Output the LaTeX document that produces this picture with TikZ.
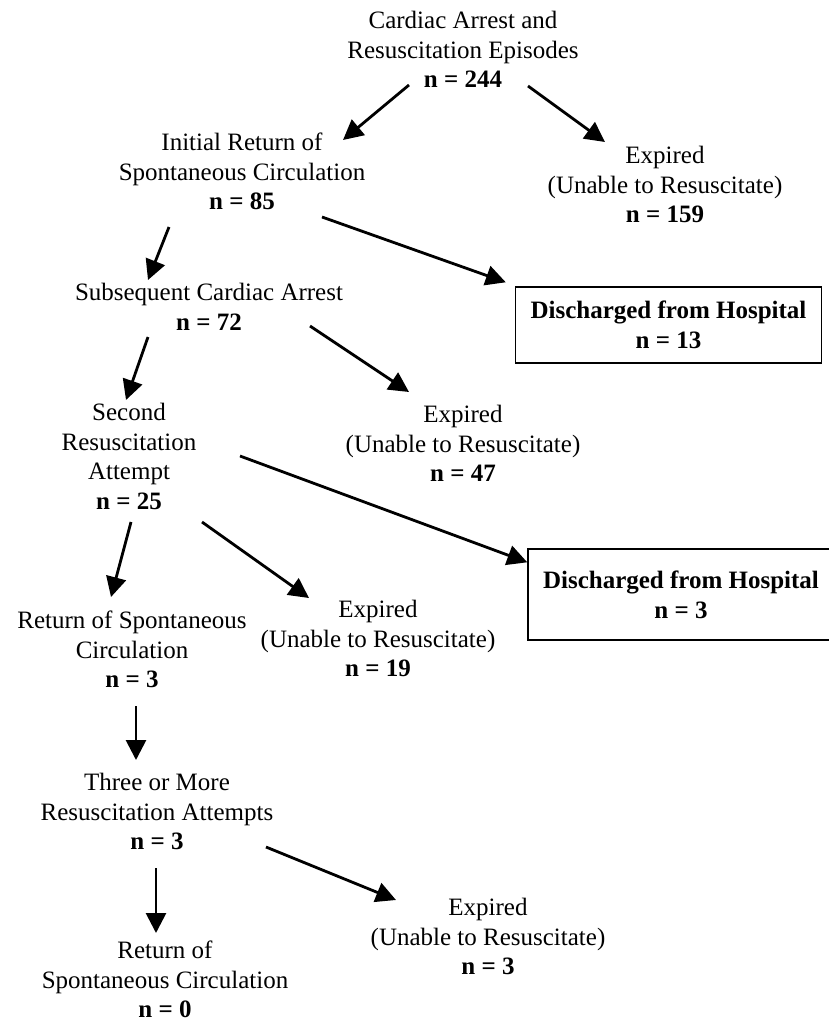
\documentclass[tikz,border=0pt]{standalone}
\usepackage{fontspec}
\setmainfont{Liberation Serif}
\usetikzlibrary{arrows.meta}
\begin{document}
\begin{tikzpicture}[x=1pt,y=-1pt,
  lbl/.style={align=center,anchor=north,inner sep=0pt,font=\fontsize{25}{29.5}\selectfont},
  arr/.style={line width=2.8pt,-{Triangle[length=20pt,width=20pt]}},
  dbox/.style={draw,line width=1.4pt,align=center,inner sep=0pt,minimum width=306pt,font=\fontsize{25}{30}\selectfont\bfseries}]
\useasboundingbox (0,0) rectangle (828,1025);
% nodes
\node[lbl] (top) at (463,11) {Cardiac Arrest and\\Resuscitation Episodes\\\textbf{n = 244}};
\node[lbl] (init) at (242,133) {Initial Return of\\Spontaneous Circulation\\\textbf{n = 85}};
\node[lbl] (exp1) at (665,146) {Expired\\(Unable to Resuscitate)\\\textbf{n = 159}};
\node[dbox,minimum height=76pt] (dis1) at (668.5,325) {Discharged from Hospital\\n = 13};
\node[lbl] (subs) at (209,283) {Subsequent Cardiac Arrest\\\textbf{n = 72}};
\node[lbl] (exp2) at (463,405) {Expired\\(Unable to Resuscitate)\\\textbf{n = 47}};
\node[lbl] (second) at (129,403) {Second\\Resuscitation\\Attempt\\\textbf{n = 25}};
\node[dbox,minimum height=91pt] (dis2) at (681,594.5) {Discharged from Hospital\\n = 3};
\node[lbl] (ret1) at (132,611) {Return of Spontaneous\\Circulation\\\textbf{n = 3}};
\node[lbl] (exp3) at (378,600) {Expired\\(Unable to Resuscitate)\\\textbf{n = 19}};
\node[lbl] (three) at (157,773) {Three or More\\Resuscitation Attempts\\\textbf{n = 3}};
\node[lbl] (exp4) at (488,898) {Expired\\(Unable to Resuscitate)\\\textbf{n = 3}};
\node[lbl] (ret0) at (165,941) {Return of\\Spontaneous Circulation\\\textbf{n = 0}};
% connectors
\draw[arr] ([shift={(-54,74)}]top.north) -- ([shift={(101,7)}]init.north);
\draw[arr] ([shift={(65,75)}]top.north) -- ([shift={(-60,-4)}]exp1.north);
\draw[arr] ([shift={(80,84)}]init.north) -- ([shift={(-9,-4)}]dis1.north west);
\draw[arr] ([shift={(-73,94)}]init.north) -- ([shift={(-61,-3)}]subs.north);
\draw[arr] ([shift={(101,43)}]subs.north) -- ([shift={(-54,-13)}]exp2.north);
\draw[arr] ([shift={(-61,54)}]subs.north) -- ([shift={(-3,-3)}]second.north);
\draw[arr] ([shift={(111,53)}]second.north) -- ([shift={(0,14)}]dis2.north west);
\draw[arr] ([shift={(2,119)}]second.north) -- ([shift={(-21,-14)}]ret1.north);
\draw[arr] ([shift={(73,119)}]second.north) -- ([shift={(-69,-2)}]exp3.north);
\draw[arr] ([shift={(4,95)}]ret1.north) -- ([shift={(-21,-13)}]three.north);
\draw[arr] ([shift={(109,74)}]three.north) -- ([shift={(-92,2)}]exp4.north);
\draw[arr] ([shift={(-1,95)}]three.north) -- ([shift={(-9,-8)}]ret0.north);
\end{tikzpicture}
\end{document}
